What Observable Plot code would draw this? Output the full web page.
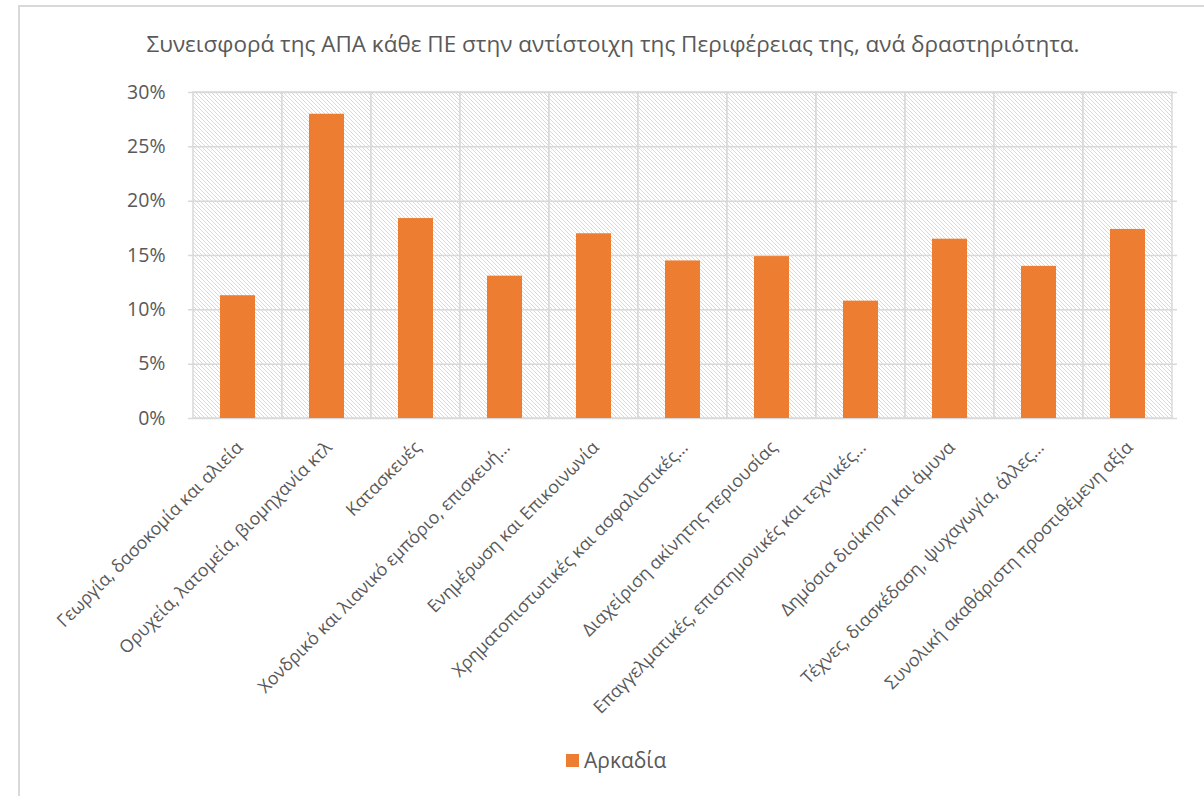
<!DOCTYPE html>
<html><head><meta charset="utf-8">
<script src="https://cdn.jsdelivr.net/npm/d3@7"></script>
<script src="https://cdn.jsdelivr.net/npm/@observablehq/plot@0.6"></script>
<style>
body{margin:0;background:#fff;overflow:hidden;width:1204px;height:796px;position:relative;font-family:"Open Sans",sans-serif;}
#frame{position:absolute;left:18px;top:5px;width:1300px;height:900px;border:2px solid #d9d9d9;box-sizing:border-box;}
#title{position:absolute;left:0;width:1226px;top:28px;text-align:center;font-size:22.5px;color:#595959;white-space:nowrap;}
#chart{position:absolute;left:19px;top:76px;width:1190px;}
#chart svg{max-width:none;overflow:visible;}
#legend{position:absolute;left:566px;top:746px;font-size:21px;color:#595959;display:flex;align-items:center;white-space:nowrap;}
#legend .sw{width:13px;height:13px;background:#ED7D31;margin-right:5px;}
</style></head>
<body>
<div id="frame"></div>
<div id="title">Συνεισφορά της ΑΠΑ κάθε ΠΕ στην αντίστοιχη της Περιφέρειας της, ανά δραστηριότητα.</div>
<div id="chart"></div>
<div id="legend"><span class="sw"></span><span>Αρκαδία</span></div>
<script>
const categories = [
  "Γεωργία, δασοκομία και αλιεία",
  "Ορυχεία, λατομεία, βιομηχανία κτλ",
  "Κατασκευές",
  "Χονδρικό και λιανικό εμπόριο, επισκευή…",
  "Ενημέρωση και Επικοινωνία",
  "Χρηματοπιστωτικές και ασφαλιστικές…",
  "Διαχείριση ακίνητης περιουσίας",
  "Επαγγελματικές, επιστημονικές και τεχνικές…",
  "Δημόσια διοίκηση και άμυνα",
  "Τέχνες, διασκέδαση, ψυχαγωγία, άλλες…",
  "Συνολική ακαθάριστη προστιθέμενη αξία"
];
const values = [0.113, 0.280, 0.184, 0.131, 0.170, 0.145, 0.149, 0.108, 0.165, 0.140, 0.174];
const yTicks = [0, 0.05, 0.10, 0.15, 0.20, 0.25, 0.30];
const seriesName = "Αρκαδία";

const data = categories.map((c, i) => ({cat: c, value: values[i]}));

const svg = Plot.plot({
  width: 1190,
  height: 700,
  marginLeft: 169,
  marginRight: 32,
  marginTop: 16,
  marginBottom: 358,
  style: {fontFamily: "Open Sans, sans-serif", background: "transparent", maxWidth: "none", overflow: "visible"},
  x: {domain: categories, padding: 0},
  y: {domain: [0, 0.3]},
  marks: [
    Plot.cell(categories, {x: d => d, fill: "url(#hatch)", stroke: "#d9d9d9", strokeWidth: 1.5}),
    Plot.ruleY(yTicks, {stroke: "#d9d9d9", strokeWidth: 1.5}),
    Plot.barY(data, {x: "cat", y: "value", fill: "#ED7D31", insetLeft: 27, insetRight: 27}),
    Plot.axisY({ticks: yTicks, tickFormat: d3.format(".0%"), tickSize: 0, tickPadding: 23, fontSize: 19.5, fill: "#595959", label: null}),
    Plot.axisX({tickRotate: -45, tickSize: 0, tickPadding: 26, fontSize: 17.7, fill: "#595959", label: null, dx: 2})
  ]
});
const defs = d3.select(svg).insert("defs", ":first-child");
const pat = defs.append("pattern").attr("id", "hatch").attr("patternUnits", "userSpaceOnUse").attr("width", 4).attr("height", 4);
pat.append("rect").attr("width", 4).attr("height", 4).attr("fill", "#ffffff");
for (let i = 0; i < 4; i++) pat.append("rect").attr("x", i).attr("y", i).attr("width", 1).attr("height", 1).attr("fill", "#d9d9d9");
document.getElementById("legend").lastChild.textContent = seriesName;
document.getElementById("chart").appendChild(svg);
</script>
</body></html>
